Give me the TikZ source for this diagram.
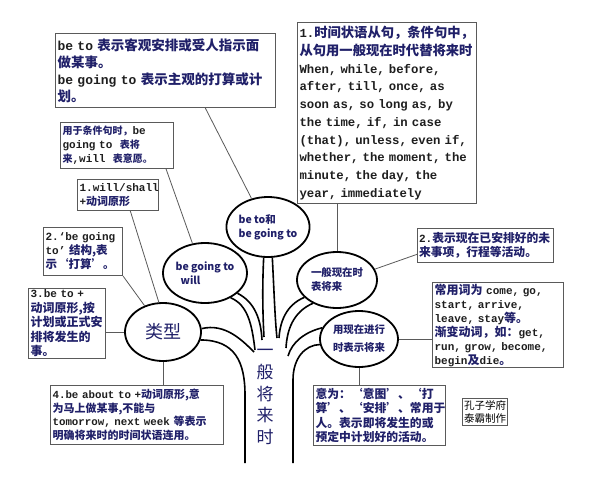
\documentclass[tikz,border=0pt]{standalone}
\usepackage{fontspec}
\usetikzlibrary{shapes.geometric,calc}
\setmonofont{Liberation Mono}
\newfontfamily\cjk{Noto Sans CJK SC}
\definecolor{zhblue}{RGB}{32,32,105}
\definecolor{latin}{RGB}{30,30,30}
\definecolor{boxgray}{RGB}{90,90,90}
\def\zhsize{\fontsize{12}{14}\selectfont}
\newcommand\zh[1]{{\cjk\zhsize\color{zhblue}#1}}
\newcommand\boxfont[3]{\ttfamily\bfseries\fontsize{#1}{#3}\selectfont\def\zhsize{\fontsize{#2}{#3}\selectfont}}
\tikzset{
  note/.style={draw=boxgray, line width=1.1pt, fill=white, anchor=north west, align=left, inner xsep=2pt, inner ysep=0pt, text=latin},
  bubble/.style={ellipse, draw, line width=1.8pt, inner sep=0pt, align=left, text=zhblue, font=\cjk\bfseries\fontsize{10.5}{14}\selectfont},
  twig/.style={line width=1.6pt},
  link/.style={draw=boxgray, line width=0.8pt}
}
\begin{document}
\begin{tikzpicture}[x=1pt,y=-1pt]
\useasboundingbox[fill=white] (0,0) rectangle (600,488);
\node[note, text width=216pt, minimum height=74pt, font={\boxfont{13}{13.5}{17}}] (boxA) at (55,33)
  {be to \zh{表示客观安排或受人指示面}\\\zh{做某事。}\\be going to \zh{表示主观的打算或计}\\\zh{划。}};
\node[note, text width=175pt, minimum height=181pt, font={\boxfont{12.3}{13.3}{17.7}}] (boxB) at (297,22)
  {1.\zh{时间状语从句，条件句中，}\\\zh{从句用一般现在时代替将来时}\\When, while, before,\\after, till, once, as\\soon as, so long as, by\\the time, if, in case\\(that), unless, even if,\\whether, the moment, the\\minute, the day, the\\year, immediately};
\node[note, text width=109pt, minimum height=46pt, font={\boxfont{11}{10}{14}}] (boxC) at (60,122)
  {\zh{用于条件句时，}be\\going to\ \ \zh{表将}\\\zh{来},will\ \ \zh{表意愿。}};
\node[note, text width=77pt, minimum height=31pt, font={\boxfont{11}{11}{14}}] (boxD) at (77,179)
  {1.will/shall\\+\zh{动词原形}};
\node[note, text width=75pt, minimum height=48pt, font={\boxfont{11}{11.5}{14}}] (boxE) at (43,227)
  {2.‘be going\\to’ \zh{结构,表}\\\zh{示‘打算’。}};
\node[note, text width=73pt, minimum height=70pt, font={\boxfont{11}{12}{14.5}}] (boxF) at (28,288)
  {3.be to +\\\zh{动词原形,按}\\\zh{计划或正式安}\\\zh{排将发生的}\\\zh{事。}};
\node[note, text width=169pt, minimum height=59pt, font={\boxfont{10.8}{11}{13.5}}] (boxG) at (50,385)
  {4.be about to +\zh{动词原形,意}\\\zh{为马上做某事,不能与}\\tomorrow, next week \zh{等表示}\\\zh{明确将来时的时间状语连用。}};
\node[note, text width=128pt, minimum height=60pt, font={\boxfont{11}{11.8}{14.3}}] (boxH) at (313,385)
  {\zh{意为：‘意图’、‘打}\\\zh{算’、‘安排’、常用于}\\\zh{人。表示即将发生的或}\\\zh{预定中计划好的活动。}};
\node[note, text width=42pt, inner xsep=1.5pt, minimum height=27pt, font=\cjk\fontsize{10.5}{12.5}\selectfont, text=black] (boxI) at (462,398)
  {孔子学府\\泰霸制作};
\node[note, text width=133pt, inner xsep=1.5pt, minimum height=34pt, font={\boxfont{11}{11.8}{14}}] (boxJ) at (417,228)
  {2.\zh{表示现在已安排好的未}\\\zh{来事项，行程等活动。}};
\node[note, text width=127pt, minimum height=85pt, font={\boxfont{11}{12}{14}}] (boxK) at (432,282)
  {\zh{常用词为} come, go,\\start, arrive,\\leave, stay\zh{等。}\\\zh{渐变动词，如：}get,\\run, grow, become,\\begin\zh{及}die\zh{。}};
\node[bubble, minimum width=76pt, minimum height=58pt, font=\cjk\fontsize{18}{20}\selectfont] (lx) at (163,332) {类型};
\node[bubble, minimum width=84pt, minimum height=60pt] (bgw) at (205,273) {be going to\\\hspace{5pt}will};
\node[bubble, minimum width=82pt, minimum height=60pt] (bt) at (268,227) {be to和\\be going to};
\node[bubble, minimum width=80pt, minimum height=56pt, font=\cjk\bfseries\fontsize{10.4}{14}\selectfont] (xz) at (337,280) {一般现在时\\表将来};
\node[bubble, minimum width=78pt, minimum height=56pt, align=center, font=\cjk\bfseries\fontsize{10.4}{18}\selectfont] (jx) at (359,339) {用现在进行\\时表示将来};
\node[align=center, text=zhblue, font=\cjk\fontsize{17}{21.7}\selectfont] (trunk) at (265,397) {一\\般\\将\\来\\时};
\draw[twig] (lx.5) .. controls (225,323) and (242,340) .. (254,352);
\draw[twig] (lx.-12) .. controls (235,340) and (245,362) .. (245,395) -- (245,463);
\draw[twig] (bgw.-44) .. controls (248,305) and (252,325) .. (255,350);
\draw[twig] (bgw.-32) .. controls (255,302) and (261,320) .. (262,340);
\draw[twig] (bt.-98) .. controls (262,290) and (263,320) .. (264,337);
\draw[twig] (bt.-82) .. controls (274,290) and (275,320) .. (277,338);
\draw[twig] (xz.-152) .. controls (286,305) and (280,322) .. (279,338);
\draw[twig] (xz.-136) .. controls (293,312) and (287,330) .. (286,348);
\draw[twig] (jx.163) .. controls (305,332) and (292,342) .. (288,356);
\draw[twig] (jx.-172) .. controls (305,345) and (293,358) .. (293,380) -- (293,463);
\draw[link] ($(boxA.south west)!0.68!(boxA.south east)$) -- (bt.120);
\draw[link] ($(boxC.south west)!0.93!(boxC.south east)$) -- (bgw.113);
\draw[link] ($(boxD.south west)!0.65!(boxD.south east)$) -- (lx.98);
\draw[link] (boxE.south east) -- (lx.125);
\draw[link] (lx.west) -- (lx.west -| boxF.east);
\draw[link] (lx.south) -- (lx.south |- boxG.north);
\draw[link] (xz.north) -- (xz.north |- boxB.south);
\draw[link] ($(boxJ.south west)!0.25!(boxJ.north west)$) -- (xz.16);
\draw[link] (jx.east) -- (jx.east -| boxK.west);
\draw[link] (jx.south) -- (jx.south |- boxH.north);
\end{tikzpicture}
\end{document}
